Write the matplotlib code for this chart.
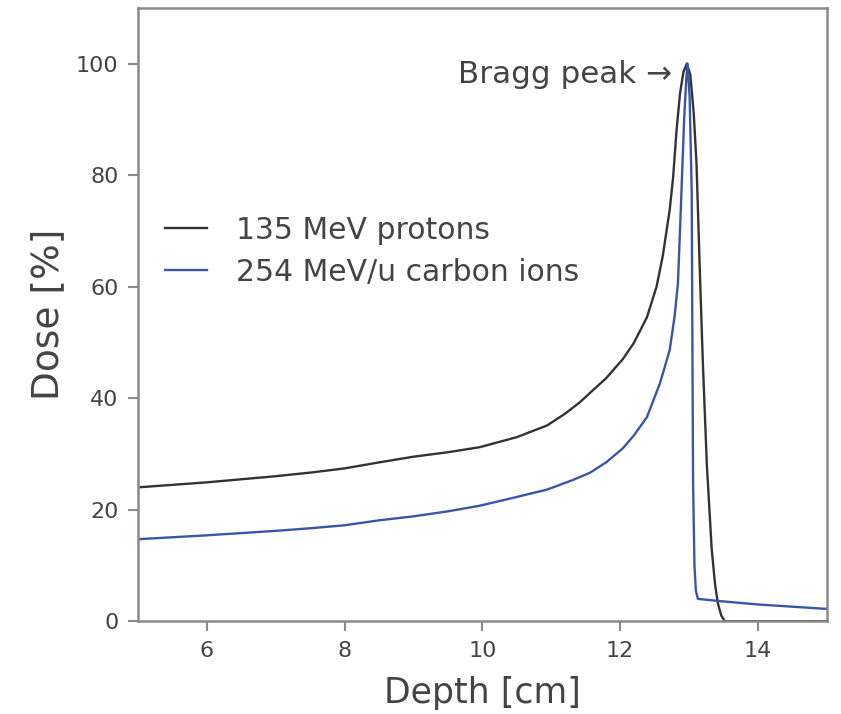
import matplotlib.pyplot as plt

# depth [cm] and relative dose [%]
proton_depth = [5.0, 6.0, 7.0, 7.54, 8.0, 8.51, 9.0, 9.5, 9.96, 10.5, 10.94, 11.2,
                11.42, 11.56, 11.8, 12.04, 12.2, 12.39, 12.53, 12.62, 12.72, 12.77,
                12.82, 12.87, 12.92, 12.97, 13.02, 13.07, 13.11, 13.16, 13.20, 13.26,
                13.33, 13.38, 13.42, 13.47, 13.52, 15.0]
proton_dose = [24.0, 24.9, 26.0, 26.7, 27.4, 28.5, 29.5, 30.3, 31.2, 33.0, 35.1, 37.2,
               39.3, 40.9, 43.6, 47.0, 49.9, 54.5, 60.0, 65.5, 73.7, 79.6,
               88.0, 94.6, 98.5, 100.0, 98.0, 91.0, 82.0, 62.0, 47.0, 28.0,
               13.0, 6.5, 3.2, 1.0, 0.0, 0.0]

carbon_depth = [5.0, 6.0, 7.0, 7.54, 8.0, 8.51, 9.0, 9.5, 9.96, 10.44, 10.94, 11.31,
                11.56, 11.8, 12.04, 12.2, 12.39, 12.58, 12.72, 12.79, 12.84, 12.87,
                12.90, 12.93, 12.96, 12.98, 13.01, 13.04, 13.05, 13.06, 13.08, 13.10,
                13.13, 13.45, 14.0, 14.5, 15.0]
carbon_dose = [14.7, 15.4, 16.2, 16.7, 17.2, 18.1, 18.8, 19.7, 20.7, 22.1, 23.6, 25.3,
               26.6, 28.5, 31.0, 33.3, 36.6, 42.7, 48.6, 54.5, 60.6, 70.0,
               80.0, 90.0, 97.0, 100.0, 94.0, 77.0, 50.0, 25.0, 10.0, 5.5,
               4.0, 3.6, 3.0, 2.6, 2.2]

labels = ['135 MeV protons', '254 MeV/u carbon ions']
text_col = '#444444'
spine_col = '#8a8a8a'

fig = plt.figure(figsize=(8.41, 7.14), dpi=100)
ax = fig.add_axes([0.164, 0.130, 0.819, 0.859])

ax.plot(proton_depth, proton_dose, color='#333333', lw=1.7, label=labels[0])
ax.plot(carbon_depth, carbon_dose, color='#3a55a8', lw=1.7, label=labels[1])

ax.set_xlim(5, 15)
ax.set_ylim(0, 110)
ax.set_xticks([6, 8, 10, 12, 14])
ax.set_yticks([0, 20, 40, 60, 80, 100])
ax.set_xlabel('Depth [cm]', fontsize=25, color=text_col, labelpad=11)
ax.set_ylabel('Dose [%]', fontsize=27, color=text_col, labelpad=7)
ax.tick_params(labelsize=16, colors=text_col, length=7, width=1.5, color=spine_col, pad=7)
for s in ax.spines.values():
    s.set_color(spine_col)
    s.set_linewidth(1.8)

ax.text(12.76, 98.1, 'Bragg peak \u2192', ha='right', va='center', fontsize=22.3, color=text_col)

ax.legend(loc='upper left', bbox_to_anchor=(0.0, 0.705), frameon=False, fontsize=21.5,
          handlelength=1.4, handletextpad=1.0, labelspacing=0.43, labelcolor=text_col)

fig.savefig('out.png', dpi=100)
